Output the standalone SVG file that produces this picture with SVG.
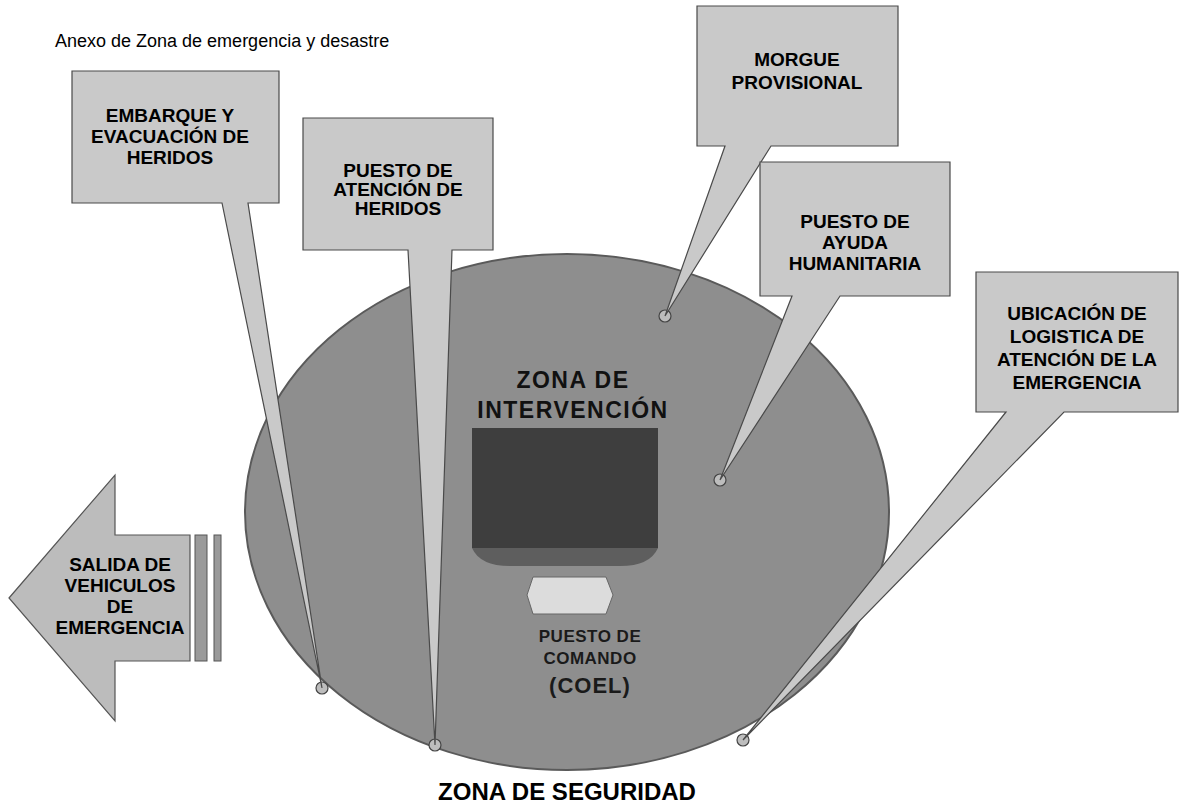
<svg xmlns="http://www.w3.org/2000/svg" width="1191" height="811" viewBox="0 0 1191 811">
<style>
.bg{fill:#ffffff}
.callout{fill:#c9c9c9;stroke:#4a4a4a;stroke-width:1.2}
.lbl{font-family:"Liberation Sans",Arial,sans-serif;font-weight:bold;font-size:19px;fill:#000;text-anchor:middle}
.title{font-family:"Liberation Sans",Arial,sans-serif;font-size:18px;fill:#000}
.zone{font-family:"Liberation Sans",Arial,sans-serif;font-weight:bold;font-size:23px;letter-spacing:1.5px;fill:#111;text-anchor:middle}
.cmd{font-family:"Liberation Sans",Arial,sans-serif;font-weight:bold;fill:#1a1a1a;text-anchor:middle}
.tip{fill:#bdbdbd;stroke:#444;stroke-width:1.2}
</style>
<rect class="bg" x="0" y="0" width="1191" height="811"/>
<text class="title" x="55" y="47">Anexo de Zona de emergencia y desastre</text>

<g id="zona-seguridad">
  <ellipse cx="567" cy="512" rx="322" ry="258" fill="#8e8e8e" stroke="#5a5a5a" stroke-width="2"/>
  <text x="567" y="800" font-family="Liberation Sans, Arial, sans-serif" font-weight="bold" font-size="24" text-anchor="middle" fill="#000">ZONA DE SEGURIDAD</text>
</g>

<g id="zona-intervencion">
  <path d="M472,428 H658 V548 H472 Z" fill="#3e3e3e"/>
  <path d="M472,548 H658 Q650,566 620,566 H510 Q480,566 472,548 Z" fill="#5e5e5e"/>
  <text class="zone" x="573" y="388">ZONA DE</text>
  <text class="zone" x="573" y="418">INTERVENCIÓN</text>
</g>

<g id="puesto-comando">
  <polygon points="533,577 606,577 613,595 606,614 533,614 527,595" fill="#dcdcdc" stroke="#666" stroke-width="1"/>
  <text class="cmd" x="590" y="642" font-size="17" letter-spacing="0.5">PUESTO DE</text>
  <text class="cmd" x="590" y="664" font-size="17" letter-spacing="0.5">COMANDO</text>
  <text class="cmd" x="590" y="693" font-size="22" letter-spacing="1">(COEL)</text>
</g>

<g id="salida">
  <path d="M9,598 L115,475 V535 H190 V661 H115 V721 Z" fill="#bcbcbc" stroke="#555" stroke-width="1.2"/>
  <rect x="195" y="535" width="12" height="126" fill="#9a9a9a" stroke="#555" stroke-width="1"/>
  <rect x="214" y="535" width="7" height="126" fill="#9a9a9a" stroke="#555" stroke-width="1"/>
  <text class="lbl" x="120" y="571">SALIDA DE</text>
  <text class="lbl" x="120" y="592">VEHICULOS</text>
  <text class="lbl" x="120" y="613">DE</text>
  <text class="lbl" x="120" y="634">EMERGENCIA</text>
</g>

<g id="connectors">
  <circle class="tip" cx="322" cy="688" r="6"/>
  <circle class="tip" cx="435" cy="745" r="6"/>
  <circle class="tip" cx="665" cy="316" r="6"/>
  <circle class="tip" cx="720" cy="480" r="6"/>
  <circle class="tip" cx="743" cy="740" r="6"/>
</g>

<g id="embarque">
  <path class="callout" d="M72,71 H279 V203 H248 L322,688 L222,203 H72 Z"/>
  <text class="lbl" x="170" y="122">EMBARQUE Y</text>
  <text class="lbl" x="170" y="143">EVACUACIÓN DE</text>
  <text class="lbl" x="170" y="164">HERIDOS</text>
</g>

<g id="puesto-atencion">
  <path class="callout" d="M303,118 H493 V250 H452 L435,745 L408,250 H303 Z"/>
  <text class="lbl" x="398" y="177">PUESTO DE</text>
  <text class="lbl" x="398" y="196">ATENCIÓN DE</text>
  <text class="lbl" x="398" y="215">HERIDOS</text>
</g>

<g id="morgue">
  <path class="callout" d="M697,6 H898 V146 H771 L665,316 L725,146 H697 Z"/>
  <text class="lbl" x="797" y="66">MORGUE</text>
  <text class="lbl" x="797" y="89">PROVISIONAL</text>
</g>

<g id="ayuda">
  <path class="callout" d="M760,162 H950 V296 H840 L720,480 L792,296 H760 Z"/>
  <text class="lbl" x="855" y="228">PUESTO DE</text>
  <text class="lbl" x="855" y="249">AYUDA</text>
  <text class="lbl" x="855" y="270">HUMANITARIA</text>
</g>

<g id="logistica">
  <path class="callout" d="M976,272 H1178 V412 H1064 L743,740 L1006,412 H976 Z"/>
  <text class="lbl" x="1077" y="320">UBICACIÓN DE</text>
  <text class="lbl" x="1077" y="343">LOGISTICA DE</text>
  <text class="lbl" x="1077" y="366">ATENCIÓN DE LA</text>
  <text class="lbl" x="1077" y="389">EMERGENCIA</text>
</g>
</svg>
